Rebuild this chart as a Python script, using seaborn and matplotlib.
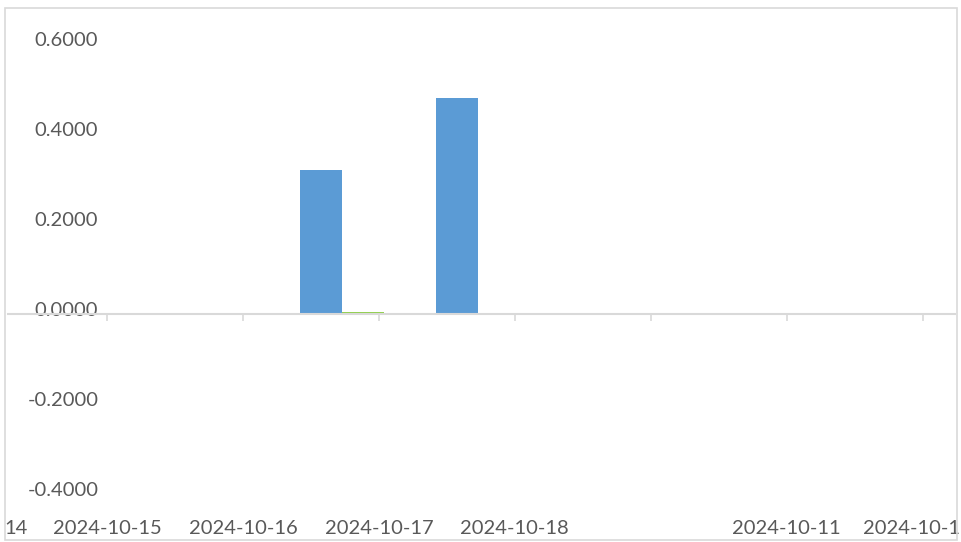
import matplotlib
matplotlib.use("Agg")
import matplotlib.pyplot as plt
import matplotlib.transforms as mtransforms
from matplotlib.patches import Rectangle
import seaborn as sns
import pandas as pd

# ---- data ----
categories = ["2024-10-14", "2024-10-15", "2024-10-16", "2024-10-17",
              "2024-10-18", "2024-10-19", "2024-10-11", "2024-10-12"]
tick_labels = ["14", "2024-10-15", "2024-10-16", "2024-10-17",
               "2024-10-18", "", "2024-10-11", "2024-10-1"]
series_a = [0.0, 0.0, 0.32, 0.48, 0.0, 0.0, 0.0, 0.0]
series_b = [0.0, 0.0, 0.004, 0.0, 0.0, 0.0, 0.0, 0.0]
y_ticks = [0.6, 0.4, 0.2, 0.0, -0.2, -0.4]

df = pd.DataFrame({
    "date": categories * 2,
    "value": series_a + series_b,
    "series": ["A"] * len(categories) + ["B"] * len(categories),
})

sns.set_theme(style="white")
plt.rcParams["font.family"] = ["Lato", "DejaVu Sans"]

W, H = 961, 542
fig = plt.figure(figsize=(W / 100, H / 100), dpi=100)
ax = fig.add_axes([8 / W, 48 / H, 947 / W, 450 / H])

sns.barplot(data=df, x="date", y="value", hue="series", order=categories,
            palette={"A": "#5B9BD5", "B": "#92D050"}, width=0.62,
            saturation=1, legend=False, ax=ax, linewidth=0)

X0, X1 = -0.456, 6.51
ax.set_xlim(X0, X1)
ax.set_ylim(-0.4, 0.6)
for s in ["top", "left", "right"]:
    ax.spines[s].set_visible(False)
ax.spines["bottom"].set_position(("data", 0))
ax.spines["bottom"].set_color("#D9D9D9")
ax.spines["bottom"].set_linewidth(1.5)

label_pos = [k - 0.728 for k in range(len(categories))]
ax.set_xticks([p for p in label_pos if X0 <= p <= X1])
ax.set_xticklabels([])
ax.tick_params(axis="x", direction="out", length=5, width=1.2,
               color="#D9D9D9", bottom=True)

ax.set_yticks(y_ticks)
ax.set_yticklabels([f"{v:.4f}" for v in y_ticks], color="#595959",
                   fontsize=14.5)
ax.tick_params(axis="y", length=0, pad=-65)
up = mtransforms.ScaledTranslation(0, 5 / 100, fig.dpi_scale_trans)
for t in ax.get_yticklabels():
    t.set_transform(t.get_transform() + up)

ax.set_xlabel("")
ax.set_ylabel("")
ax.grid(False)

trans = mtransforms.blended_transform_factory(ax.transData, ax.transAxes)
n = len(tick_labels)
for i, (p, lab) in enumerate(zip(label_pos, tick_labels)):
    if i == 0:
        x, ha = X0 - 0.03, "left"
    elif i == n - 1:
        x, ha = X1 + 0.04, "right"
    else:
        x, ha = p, "center"
    ax.text(x, -0.0756, lab, transform=trans, ha=ha, va="center",
            fontsize=14.5, color="#595959", clip_on=False)

fig.patches.append(Rectangle((5 / W, 2 / H), 952 / W, 532 / H,
                             transform=fig.transFigure, fill=False,
                             edgecolor="#D9D9D9", linewidth=1.2))

fig.savefig("out.png", dpi=100)
